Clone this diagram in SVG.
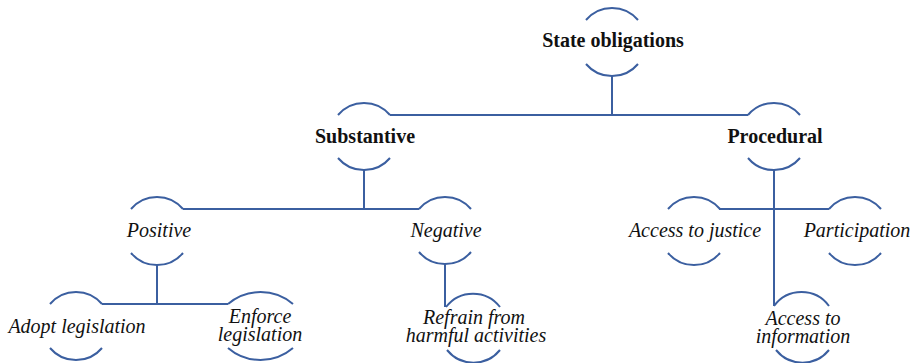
<svg xmlns="http://www.w3.org/2000/svg" width="916" height="363" viewBox="0 0 916 363">
<style>
.arc,.conn{fill:none;stroke:#3b5fa0;stroke-width:2}
text{font-family:'Liberation Serif','Times New Roman',Times,'DejaVu Serif','Noto Serif',serif;font-size:20px;fill:#111;text-anchor:middle}
.b{font-weight:bold}
.i{font-style:italic}
</style>
<rect width="916" height="363" fill="#fff"/>
<g id="connectors">
<path class="conn" d="M612,76V115M390,115H748"/>
<path class="conn" d="M364,170V209M183,209H419"/>
<path class="conn" d="M774,170V306M719,209H829"/>
<path class="conn" d="M157,264V304M102,304H228"/>
<path class="conn" d="M445,263V307"/>
</g>
<g id="state-obligations">
<path class="arc" d="M586,20A34,34 0 0 1 638,20M586,64A34,34 0 0 0 638,64"/>
<text class="b" x="613" y="47">State obligations</text>
</g>
<g id="substantive">
<path class="arc" d="M338,115A34,34 0 0 1 390,115M338,158A34,34 0 0 0 390,158"/>
<text class="b" x="365" y="143">Substantive</text>
</g>
<g id="procedural">
<path class="arc" d="M748,115A34,34 0 0 1 800,115M748,158A34,34 0 0 0 800,158"/>
<text class="b" x="775" y="143">Procedural</text>
</g>
<g id="positive">
<path class="arc" d="M131,209A34,34 0 0 1 183,209M131,253A34,34 0 0 0 183,253"/>
<text class="i" x="159" y="237">Positive</text>
</g>
<g id="negative">
<path class="arc" d="M419,209A34,34 0 0 1 471,209M419,252A34,34 0 0 0 471,252"/>
<text class="i" x="446" y="237">Negative</text>
</g>
<g id="access-to-justice">
<path class="arc" d="M668,209A34,34 0 0 1 720,209M668,253A34,34 0 0 0 720,253"/>
<text class="i" x="695" y="237">Access to justice</text>
</g>
<g id="participation">
<path class="arc" d="M829,209A34,34 0 0 1 881,209M829,253A34,34 0 0 0 881,253"/>
<text class="i" x="857" y="237">Participation</text>
</g>
<g id="adopt-legislation">
<path class="arc" d="M50,304A34,34 0 0 1 102,304M50,348A34,34 0 0 0 102,348"/>
<text class="i" x="77" y="333">Adopt legislation</text>
</g>
<g id="enforce-legislation">
<path class="arc" d="M228,304A50,50 0 0 1 293,304M228,348A50,50 0 0 0 293,348"/>
<text class="i" x="260" y="323">Enforce<tspan x="260" dy="18">legislation</tspan></text>
</g>
<g id="refrain">
<path class="arc" d="M446,307A34,34 0 0 1 500,307M447,350A34,34 0 0 0 500,350"/>
<text class="i" x="474" y="324">Refrain from<tspan x="476" dy="18">harmful activities</tspan></text>
</g>
<g id="access-to-information">
<path class="arc" d="M774,306A34,34 0 0 1 829,306M776,350A34,34 0 0 0 829,350"/>
<text class="i" x="803" y="325">Access to<tspan x="803" dy="18">information</tspan></text>
</g>
</svg>
